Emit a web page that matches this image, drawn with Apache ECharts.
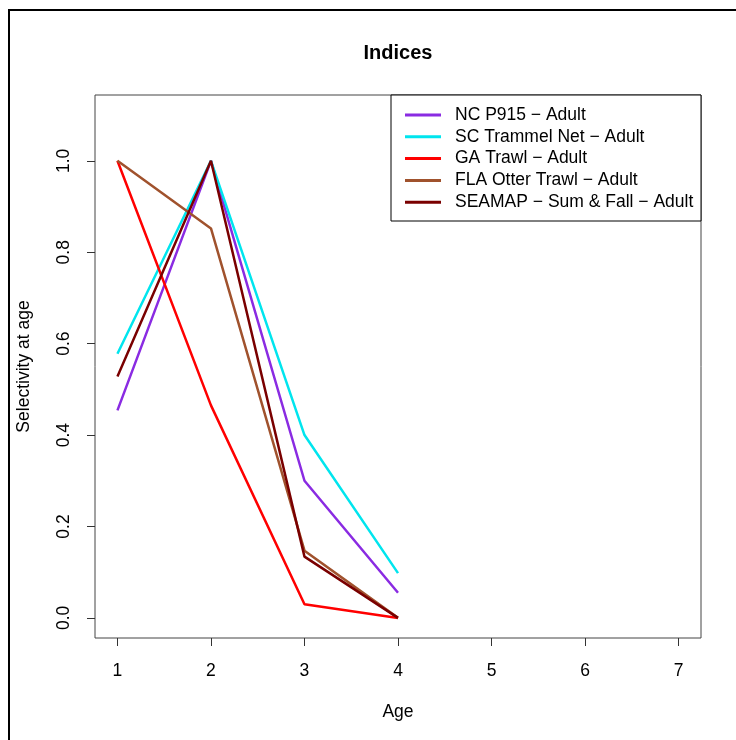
<!DOCTYPE html>
<html><head><meta charset="utf-8">
<script src="https://cdn.jsdelivr.net/npm/echarts@6/dist/echarts.min.js"></script>
<style>html,body{margin:0;padding:0;background:#fff}#c{width:736px;height:740px}</style>
</head><body><div id="c"></div>
<script>
const ages = [1, 2, 3, 4];
const xTicks = [1, 2, 3, 4, 5, 6, 7];
const yTicks = [0, 0.2, 0.4, 0.6, 0.8, 1.0];
const seriesNames = ["NC P915 \u2212 Adult", "SC Trammel Net \u2212 Adult", "GA Trawl \u2212 Adult", "FLA Otter Trawl \u2212 Adult", "SEAMAP \u2212 Sum & Fall \u2212 Adult"];
const ncP915 = [0.454, 1.0, 0.30, 0.055];
const scTrammel = [0.578, 1.0, 0.40, 0.098];
const gaTrawl = [1.0, 0.465, 0.03, 0.0];
const flaOtter = [1.0, 0.852, 0.147, 0.0];
const seamap = [0.528, 1.0, 0.134, 0.0];
const colors = ["#8A2BE2", "#00E5EE", "#FF0000", "#A0522D", "#7A0000"];
const allValues = [ncP915, scTrammel, gaTrawl, flaOtter, seamap];

const font = "Liberation Sans, Arial, sans-serif";
const chart = echarts.init(document.getElementById('c'), null, {renderer: 'canvas'});
chart.setOption({
  animation: false,
  backgroundColor: '#fff',
  title: {text: 'Indices', left: 393, top: 38, textAlign: 'center',
    textStyle: {fontFamily: font, fontSize: 20, fontWeight: 'bold', color: '#000'}},
  graphic: [
    {type: 'rect', shape: {x: 9, y: 10, width: 760, height: 760}, style: {fill: 'none', stroke: '#000', lineWidth: 2}, z: 100},
    {type: 'rect', shape: {x: 391, y: 95, width: 310, height: 126}, style: {fill: '#fff', stroke: '#000', lineWidth: 1}, z: 50}
  ],
  legend: {
    show: true, orient: 'vertical', left: 391, top: 95, padding: [11, 8, 10, 14],
    itemWidth: 36, itemHeight: 3, itemGap: 3.8, icon: 'rect', z: 60,
    textStyle: {fontFamily: font, fontSize: 17.5, color: '#000', lineHeight: 17, padding: [0, 0, 0, 9]},
    data: seriesNames
  },
  grid: {left: 95, right: 35, top: 95, bottom: 102, outerBoundsMode: 'none', containLabel: false,
    show: true, borderColor: '#444', borderWidth: 1, backgroundColor: 'transparent'},
  xAxis: {
    type: 'value', min: 0.76, max: 7.24,
    name: 'Age', nameLocation: 'middle', nameGap: 65,
    nameTextStyle: {fontFamily: font, fontSize: 17.5, color: '#000'},
    axisLine: {show: false, onZero: false},
    splitLine: {show: false},
    axisTick: {show: true, inside: false, customValues: xTicks, length: 8, lineStyle: {color: '#333'}},
    axisLabel: {customValues: xTicks, fontFamily: font, fontSize: 17.5, color: '#000', margin: 24}
  },
  yAxis: {
    type: 'value', min: -0.044, max: 1.144,
    name: 'Selectivity at age', nameLocation: 'middle', nameGap: 62, nameRotate: 90,
    nameTextStyle: {fontFamily: font, fontSize: 17.5, color: '#000'},
    axisLine: {show: false, onZero: false},
    splitLine: {show: false},
    axisTick: {show: true, inside: false, customValues: yTicks, length: 8, lineStyle: {color: '#333'}},
    axisLabel: {customValues: yTicks, rotate: 90, fontFamily: font, fontSize: 17.5, color: '#000', margin: 22,
      formatter: v => v.toFixed(1)}
  },
  series: seriesNames.map((n, i) => ({
    name: n, type: 'line', symbol: 'none', color: colors[i],
    lineStyle: {width: 2.5, color: colors[i]},
    data: ages.map((a, j) => [a, allValues[i][j]])
  }))
});
</script></body></html>
